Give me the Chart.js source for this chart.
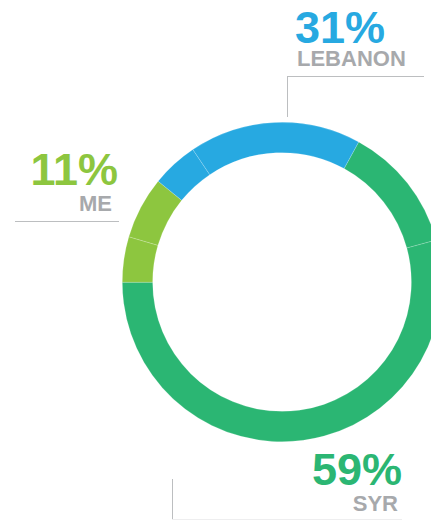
<!DOCTYPE html>
<html>
<head>
<meta charset="utf-8">
<script src="https://cdn.jsdelivr.net/npm/chart.js@4/dist/chart.umd.min.js"></script>
<style>
    html, body { margin: 0; padding: 0; background: #fff; }
    body { width: 431px; height: 520px; overflow: hidden; position: relative; font-family: "Liberation Sans", Arial, Helvetica, sans-serif; font-weight: bold; }
    #chartBox { position: absolute; left: 122px; top: 122px; width: 320px; height: 320px; }
    .pct { position: absolute; font-size: 45px; line-height: 45px; white-space: nowrap; }
    .name { position: absolute; font-size: 22px; line-height: 22px; color: #a7a9ac; white-space: nowrap; }
    .rule { position: absolute; background: #bcbec0; }
</style>
</head>
<body>
<div id="chartBox"><canvas id="donut" width="320" height="320"></canvas></div>

<div class="pct" id="pctLebanon" style="left:295px; top:5px; color:#27a9e1;"></div>
<div class="name" id="nameLebanon" style="left:297px; top:48px;"></div>
<div class="rule" style="left:287px; top:76px; width:137px; height:1px;"></div>
<div class="rule" style="left:287px; top:76px; width:1px; height:41px;"></div>

<div class="pct" id="pctMe" style="right:313px; top:147px; color:#8dc63f;"></div>
<div class="name" id="nameMe" style="right:319px; top:193px;"></div>
<div class="rule" style="left:15px; top:221px; width:104px; height:1px;"></div>

<div class="pct" id="pctSyr" style="right:29px; top:447px; color:#2bb673;"></div>
<div class="name" id="nameSyr" style="right:33px; top:493px;"></div>
<div class="rule" style="left:172px; top:479px; width:1px; height:41px;"></div>
<div class="rule" style="left:172px; top:519px; width:230px; height:1px; background:#eeeeef;"></div>

<script>
// подписи и проценты
const labelNames = ['LEBANON', 'ME', 'SYR'];
const labelPercents = [31, 11, 59];

// сегменты кольца (по часовой стрелке от границы голубого и зелёного)
const segmentGroups = ['SYR', 'SYR', 'ME', 'ME', 'LEBANON', 'LEBANON'];
const segmentValues = [12.8, 54.2, 4.6, 6.3, 4.7, 17.4];

document.addEventListener('DOMContentLoaded', function() {
    const groupColors = {
        SYR: '#2bb673',
        ME: '#8dc63f',
        LEBANON: '#27a9e1'
    };

    document.getElementById('pctLebanon').textContent = labelPercents[0] + '%';
    document.getElementById('nameLebanon').textContent = labelNames[0];
    document.getElementById('pctMe').textContent = labelPercents[1] + '%';
    document.getElementById('nameMe').textContent = labelNames[1];
    document.getElementById('pctSyr').textContent = labelPercents[2] + '%';
    document.getElementById('nameSyr').textContent = labelNames[2];

    const ctx = document.getElementById('donut').getContext('2d');
    new Chart(ctx, {
        type: 'doughnut',
        data: {
            labels: segmentGroups,
            datasets: [{
                data: segmentValues,
                backgroundColor: segmentGroups.map(g => groupColors[g]),
                borderColor: 'rgba(255, 255, 255, 0.3)',
                borderWidth: 0.6
            }]
        },
        options: {
            responsive: false,
            animation: false,
            rotation: 28.7,
            cutout: '81%',
            layout: { padding: 0 },
            plugins: {
                legend: { display: false },
                tooltip: { enabled: false }
            },
            events: []
        }
    });
});
</script>
</body>
</html>
